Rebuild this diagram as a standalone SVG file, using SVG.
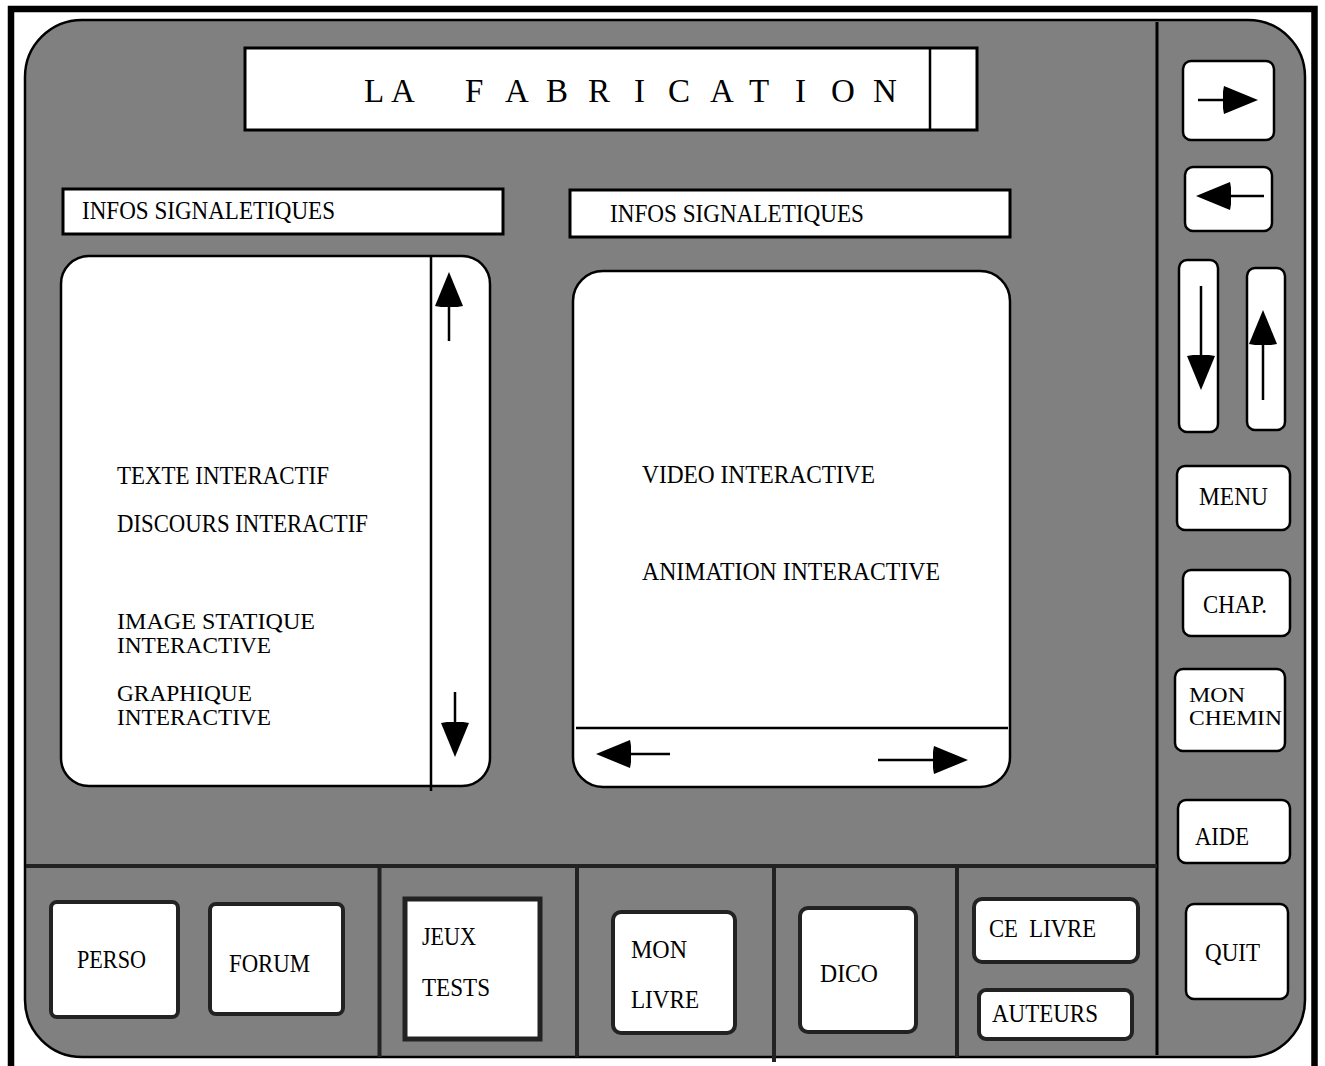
<svg xmlns="http://www.w3.org/2000/svg" width="1325" height="1066" viewBox="0 0 1325 1066">
<defs>
<style>
text{font-family:"Liberation Serif","Times New Roman",serif;font-size:25px;fill:#000}
.pair{font-size:24px}
.tight{font-size:22px}
.box{fill:#fff;stroke:#000;stroke-width:2.5}
.bbox{fill:#fff;stroke:#222;stroke-width:4}
.sep{stroke:#222;stroke-width:4;fill:none}
.shaft{stroke:#000;stroke-width:2.5;fill:none;marker-end:url(#ah)}
</style>
<marker id="ah" viewBox="-5 0 35 28" markerWidth="35" markerHeight="28" refX="0" refY="14" orient="auto" markerUnits="userSpaceOnUse">
<path d="M-4,0 L30,14 L-4,28 Q-7,14 -4,0 Z" fill="#000"/>
</marker>
</defs>
<rect width="1325" height="1066" fill="#fff"/>
<path d="M11,1066 V9 H1314.5 V1066" fill="none" stroke="#000" stroke-width="6.5"/>
<rect id="panel" x="25" y="20" width="1280" height="1037" rx="57" ry="57" fill="#808080" stroke="#000" stroke-width="2.5"/>

<g id="separators">
<line x1="1157" y1="22" x2="1157" y2="1055" stroke="#000" stroke-width="3"/>
<line class="sep" x1="26" y1="866" x2="1157" y2="866"/>
<line class="sep" x1="379.5" y1="866" x2="379.5" y2="1057"/>
<line class="sep" x1="577" y1="866" x2="577" y2="1057"/>
<line class="sep" x1="774" y1="866" x2="774" y2="1062"/>
<line class="sep" x1="957" y1="866" x2="957" y2="1057"/>
</g>

<g id="title">
<rect x="245" y="48" width="732" height="82" fill="#fff" stroke="#000" stroke-width="3"/>
<line x1="930" y1="48" x2="930" y2="130" stroke="#000" stroke-width="2.5"/>
<text x="364 391 465 505 546 588 634 668 710 749 795 831 873" y="102" style="font-size:33px">LAFABRICATION</text>
</g>

<g id="info-left">
<rect x="63" y="189" width="440" height="45" fill="#fff" stroke="#000" stroke-width="3"/>
<text x="82" y="219" textLength="253" lengthAdjust="spacingAndGlyphs">INFOS SIGNALETIQUES</text>
</g>
<g id="info-right">
<rect x="570" y="190" width="440" height="47" fill="#fff" stroke="#000" stroke-width="3"/>
<text x="610" y="222" textLength="254" lengthAdjust="spacingAndGlyphs">INFOS SIGNALETIQUES</text>
</g>

<g id="left-panel">
<rect class="box" x="61" y="256" width="429" height="530" rx="28" ry="28"/>
<line x1="431" y1="256" x2="431" y2="791" stroke="#000" stroke-width="2.5"/>
<text x="117" y="484" textLength="212" lengthAdjust="spacingAndGlyphs">TEXTE INTERACTIF</text>
<text x="117" y="532" textLength="251" lengthAdjust="spacingAndGlyphs">DISCOURS INTERACTIF</text>
<text class="pair" x="117" y="629" textLength="198" lengthAdjust="spacingAndGlyphs">IMAGE STATIQUE</text>
<text class="pair" x="117" y="653" textLength="154" lengthAdjust="spacingAndGlyphs">INTERACTIVE</text>
<text class="pair" x="117" y="701" textLength="135" lengthAdjust="spacingAndGlyphs">GRAPHIQUE</text>
<text class="pair" x="117" y="725" textLength="154" lengthAdjust="spacingAndGlyphs">INTERACTIVE</text>
</g>

<g id="right-panel">
<rect class="box" x="573" y="271" width="437" height="516" rx="30" ry="30"/>
<line x1="576" y1="728" x2="1008" y2="728" stroke="#000" stroke-width="2.5"/>
<text x="642" y="483" textLength="233" lengthAdjust="spacingAndGlyphs">VIDEO INTERACTIVE</text>
<text x="642" y="580" textLength="298" lengthAdjust="spacingAndGlyphs">ANIMATION INTERACTIVE</text>
</g>

<g id="btn-next"><rect class="box" x="1183" y="61" width="91" height="79" rx="8"/></g>
<g id="btn-prev"><rect class="box" x="1185" y="167" width="87" height="64" rx="8"/></g>
<g id="btn-down"><rect class="box" x="1179" y="260" width="39" height="172" rx="8"/></g>
<g id="btn-up"><rect class="box" x="1247" y="268" width="38" height="162" rx="8"/></g>

<g id="btn-menu"><rect class="box" x="1177" y="466" width="113" height="64" rx="8"/>
<text x="1199" y="505" textLength="69" lengthAdjust="spacingAndGlyphs">MENU</text></g>
<g id="btn-chap"><rect class="box" x="1183" y="570" width="107" height="66" rx="8"/>
<text x="1203" y="613" textLength="64" lengthAdjust="spacingAndGlyphs">CHAP.</text></g>
<g id="btn-chemin"><rect class="box" x="1175" y="669" width="110" height="82" rx="8"/>
<text class="tight" x="1189" y="702" textLength="56" lengthAdjust="spacingAndGlyphs">MON</text>
<text class="tight" x="1189" y="725" textLength="93" lengthAdjust="spacingAndGlyphs">CHEMIN</text></g>
<g id="btn-aide"><rect class="box" x="1178" y="800" width="112" height="63" rx="8"/>
<text x="1195" y="845" textLength="54" lengthAdjust="spacingAndGlyphs">AIDE</text></g>
<g id="btn-quit"><rect class="box" x="1186" y="904" width="102" height="95" rx="8"/>
<text x="1205" y="961" textLength="55" lengthAdjust="spacingAndGlyphs">QUIT</text></g>

<g id="btn-perso"><rect class="bbox" x="51" y="902" width="127" height="115" rx="6"/>
<text x="77" y="968" textLength="69" lengthAdjust="spacingAndGlyphs">PERSO</text></g>
<g id="btn-forum"><rect class="bbox" x="210" y="904" width="133" height="110" rx="6"/>
<text x="229" y="972" textLength="81" lengthAdjust="spacingAndGlyphs">FORUM</text></g>
<g id="btn-jeux"><rect x="405" y="899" width="135" height="140" fill="#fff" stroke="#222" stroke-width="5"/>
<text x="422" y="945" textLength="54" lengthAdjust="spacingAndGlyphs">JEUX</text>
<text x="422" y="996" textLength="68" lengthAdjust="spacingAndGlyphs">TESTS</text></g>
<g id="btn-monlivre"><rect class="bbox" x="613" y="912" width="122" height="121" rx="8"/>
<text x="631" y="958" textLength="56" lengthAdjust="spacingAndGlyphs">MON</text>
<text x="631" y="1008" textLength="68" lengthAdjust="spacingAndGlyphs">LIVRE</text></g>
<g id="btn-dico"><rect class="bbox" x="800" y="908" width="116" height="124" rx="8"/>
<text x="820" y="982" textLength="58" lengthAdjust="spacingAndGlyphs">DICO</text></g>
<g id="btn-celivre"><rect class="bbox" x="974" y="899" width="164" height="63" rx="8"/>
<text x="989" y="937" textLength="107" lengthAdjust="spacingAndGlyphs" style="white-space:pre">CE  LIVRE</text></g>
<g id="btn-auteurs"><rect class="bbox" x="979" y="990" width="153" height="49" rx="7"/>
<text x="992" y="1022" textLength="106" lengthAdjust="spacingAndGlyphs">AUTEURS</text></g>

<g id="connectors">
<line class="shaft" x1="1198" y1="100" x2="1228" y2="100"/>
<line class="shaft" x1="1264" y1="196" x2="1226" y2="196"/>
<line class="shaft" x1="1201" y1="286" x2="1201" y2="360"/>
<line class="shaft" x1="1263" y1="400" x2="1263" y2="340"/>
<line class="shaft" x1="449" y1="341" x2="449" y2="302"/>
<line class="shaft" x1="455" y1="692" x2="455" y2="727"/>
<line class="shaft" x1="670" y1="754" x2="626" y2="754"/>
<line class="shaft" x1="878" y1="760" x2="938" y2="760"/>
</g>
</svg>
